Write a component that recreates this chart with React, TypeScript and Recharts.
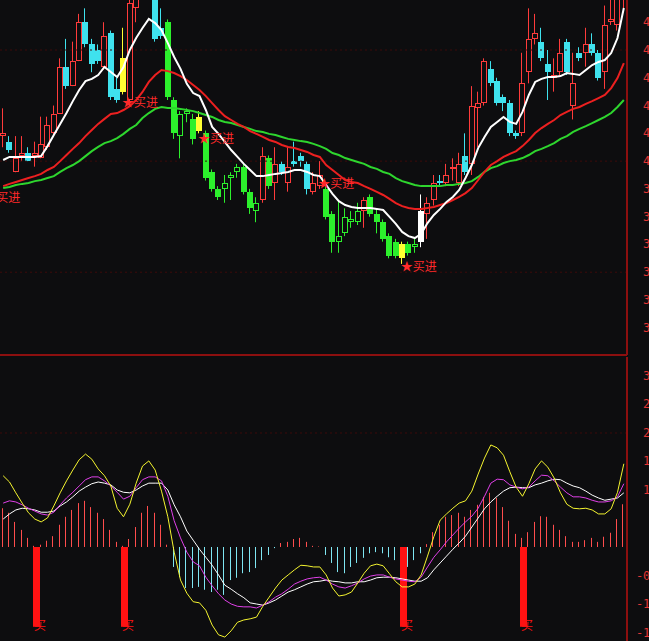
import React from 'react'
import { ComposedChart, Bar, Line, XAxis, YAxis, ReferenceLine } from 'recharts'

const BG = '#0d0d0f'
const AXIS_RED = '#8c0f0f'
const LABEL_RED = '#e23434'

// daily candles, left to right
const opens = [
  4.09, 4.07, 3.96, 4.02, 4.03, 4.02, 4.01, 4.05, 4.10, 4.17,
  4.34, 4.27, 4.36, 4.50, 4.42, 4.40, 4.34, 4.46, 4.26, 4.25,
  4.22, 4.55, 4.62, 4.65, 4.73, 4.48, 4.50, 4.22, 4.09, 4.17,
  4.15, 4.11, 4.10, 3.96, 3.90, 3.90, 3.94, 3.96, 3.98, 3.89,
  3.82, 3.86, 4.01, 3.92, 3.99, 3.92, 4.00, 4.02, 3.99, 3.89,
  3.91, 3.90, 3.81, 3.71, 3.74, 3.78, 3.78, 3.82, 3.87, 3.81,
  3.78, 3.73, 3.71, 3.65, 3.70, 3.69, 3.71, 3.81, 3.86, 3.93,
  3.92, 3.97, 3.92, 4.02, 3.99, 4.19, 4.21, 4.33, 4.29, 4.23,
  4.21, 4.10, 4.10, 4.32, 4.44, 4.43, 4.35, 4.30, 4.32, 4.43,
  4.20, 4.39, 4.39, 4.42, 4.39, 4.32, 4.50, 4.49, 4.60,
]
const highs = [
  4.19, 4.09, 4.09, 4.09, 4.05, 4.07, 4.16, 4.16, 4.20, 4.37,
  4.44, 4.43, 4.53, 4.55, 4.44, 4.42, 4.50, 4.47, 4.30, 4.48,
  4.59, 4.63, 4.74, 4.78, 4.76, 4.55, 4.51, 4.23, 4.18, 4.19,
  4.17, 4.18, 4.11, 3.97, 3.91, 3.95, 3.96, 3.99, 3.99, 3.90,
  3.87, 4.05, 4.02, 4.05, 4.00, 4.05, 4.07, 4.03, 4.00, 3.96,
  4.00, 3.91, 3.82, 3.86, 3.83, 3.82, 3.85, 3.87, 3.88, 3.83,
  3.79, 3.74, 3.72, 3.71, 3.71, 3.72, 3.88, 3.87, 3.95, 3.95,
  3.99, 4.01, 4.03, 4.10, 4.27, 4.25, 4.37, 4.36, 4.30, 4.24,
  4.22, 4.11, 4.39, 4.55, 4.53, 4.48, 4.40, 4.37, 4.44, 4.44,
  4.39, 4.41, 4.48, 4.46, 4.40, 4.56, 4.58, 4.62, 4.71,
]
const lows = [
  4.05, 4.03, 3.96, 4.00, 4.00, 3.98, 4.01, 4.04, 4.09, 4.17,
  4.26, 4.27, 4.36, 4.41, 4.32, 4.35, 4.33, 4.22, 4.21, 4.24,
  4.21, 4.50, 4.59, 4.60, 4.43, 4.44, 4.22, 4.08, 4.01, 4.14,
  4.06, 4.10, 3.93, 3.89, 3.86, 3.85, 3.86, 3.94, 3.88, 3.81,
  3.78, 3.85, 3.90, 3.86, 3.95, 3.89, 3.98, 3.98, 3.88, 3.88,
  3.90, 3.79, 3.67, 3.67, 3.73, 3.76, 3.77, 3.76, 3.80, 3.74,
  3.71, 3.65, 3.65, 3.63, 3.66, 3.67, 3.69, 3.72, 3.84, 3.91,
  3.91, 3.93, 3.91, 3.95, 3.95, 4.05, 4.20, 4.27, 4.20, 4.18,
  4.09, 4.08, 4.09, 4.28, 4.42, 4.36, 4.22, 4.25, 4.31, 4.31,
  4.15, 4.36, 4.34, 4.38, 4.29, 4.26, 4.49, 4.47, 4.55,
]
const closes = [
  4.10, 4.04, 4.01, 4.03, 4.00, 4.03, 4.06, 4.13, 4.17, 4.34,
  4.27, 4.36, 4.50, 4.42, 4.35, 4.36, 4.45, 4.23, 4.22, 4.37,
  4.57, 4.62, 4.72, 4.76, 4.44, 4.45, 4.23, 4.10, 4.17, 4.18,
  4.08, 4.16, 3.94, 3.90, 3.87, 3.92, 3.95, 3.98, 3.89, 3.83,
  3.85, 4.02, 3.91, 3.99, 3.96, 3.98, 3.99, 4.00, 3.90, 3.92,
  3.95, 3.80, 3.71, 3.73, 3.80, 3.79, 3.82, 3.86, 3.81, 3.78,
  3.72, 3.66, 3.66, 3.70, 3.67, 3.70, 3.82, 3.85, 3.92, 3.92,
  3.95, 3.98, 3.99, 3.96, 4.20, 4.21, 4.36, 4.28, 4.21, 4.21,
  4.10, 4.09, 4.28, 4.44, 4.46, 4.37, 4.32, 4.31, 4.39, 4.32,
  4.28, 4.37, 4.42, 4.39, 4.30, 4.49, 4.51, 4.60, 4.69,
]
// candle state from the indicator: R rise, C fall, G weak fall, g weak rise, Y signal, W turn
const tones = (
  'RCRRCRRRRR' + 'CRRCCCRCCY' + 'RRRRCCGGgg' + 'GYGGGgggGG' + 'gRGRCRCCCR' +
  'RGGggggRGG' + 'GGGYGgWRRC' + 'RRRCRRRCCC' + 'CCRRRCCRRC' + 'RCRCCRRRR'
).split('')

const maFast = [
  4.004, 4.015, 4.015, 4.015, 4.015, 4.015, 4.018, 4.054, 4.094, 4.134,
  4.173, 4.216, 4.256, 4.288, 4.296, 4.310, 4.339, 4.321, 4.303, 4.339,
  4.400, 4.443, 4.479, 4.512, 4.497, 4.472, 4.425, 4.375, 4.332, 4.278,
  4.245, 4.234, 4.184, 4.123, 4.098, 4.069, 4.040, 4.015, 3.990, 3.968,
  3.946, 3.946, 3.950, 3.954, 3.957, 3.961, 3.968, 3.968, 3.961, 3.950,
  3.946, 3.914, 3.882, 3.856, 3.842, 3.835, 3.831, 3.831, 3.831, 3.828,
  3.824, 3.799, 3.774, 3.745, 3.730, 3.723, 3.738, 3.777, 3.806, 3.828,
  3.853, 3.871, 3.896, 3.939, 3.986, 4.047, 4.087, 4.123, 4.141, 4.159,
  4.141, 4.134, 4.177, 4.238, 4.285, 4.296, 4.303, 4.303, 4.306, 4.317,
  4.314, 4.310, 4.328, 4.346, 4.357, 4.364, 4.389, 4.443, 4.551,
]
const maMid = [
  3.910, 3.918, 3.925, 3.932, 3.939, 3.946, 3.954, 3.968, 3.979, 4.000,
  4.022, 4.044, 4.065, 4.090, 4.112, 4.134, 4.152, 4.170, 4.173, 4.184,
  4.198, 4.220, 4.249, 4.285, 4.310, 4.328, 4.324, 4.317, 4.306, 4.292,
  4.274, 4.256, 4.234, 4.209, 4.184, 4.162, 4.148, 4.134, 4.123, 4.108,
  4.098, 4.087, 4.076, 4.069, 4.058, 4.051, 4.047, 4.040, 4.033, 4.022,
  4.015, 3.986, 3.968, 3.950, 3.932, 3.925, 3.921, 3.910, 3.900, 3.889,
  3.878, 3.864, 3.849, 3.838, 3.831, 3.828, 3.828, 3.831, 3.835, 3.842,
  3.849, 3.860, 3.871, 3.885, 3.903, 3.932, 3.961, 3.986, 4.000, 4.015,
  4.026, 4.036, 4.054, 4.076, 4.101, 4.119, 4.134, 4.148, 4.166, 4.177,
  4.188, 4.195, 4.206, 4.216, 4.227, 4.238, 4.263, 4.299, 4.353,
]
const maSlow = [
  3.903, 3.907, 3.914, 3.918, 3.921, 3.928, 3.932, 3.939, 3.946, 3.961,
  3.975, 3.986, 4.000, 4.018, 4.036, 4.051, 4.065, 4.072, 4.083, 4.098,
  4.116, 4.130, 4.155, 4.173, 4.188, 4.195, 4.191, 4.191, 4.188, 4.184,
  4.180, 4.173, 4.166, 4.159, 4.148, 4.141, 4.137, 4.130, 4.123, 4.116,
  4.108, 4.105, 4.098, 4.094, 4.087, 4.080, 4.076, 4.072, 4.069, 4.062,
  4.054, 4.044, 4.029, 4.022, 4.011, 4.004, 3.997, 3.990, 3.979, 3.972,
  3.961, 3.954, 3.939, 3.928, 3.921, 3.914, 3.910, 3.910, 3.910, 3.910,
  3.914, 3.914, 3.918, 3.921, 3.928, 3.943, 3.961, 3.975, 3.982, 3.993,
  4.000, 4.004, 4.011, 4.022, 4.036, 4.044, 4.054, 4.065, 4.080, 4.090,
  4.105, 4.116, 4.126, 4.137, 4.148, 4.159, 4.173, 4.195, 4.220,
]

// "★买进" marks: [candle index, price level]
const buyMarks = [[0, 3.87], [19, 4.21], [31, 4.08], [50, 3.92], [63, 3.62]]

// lower panel oscillator
const histogram = [
  0.68, 0.60, 0.44, 0.30, 0.16, 0.02, 0.04, 0.11, 0.19, 0.39,
  0.53, 0.65, 0.77, 0.81, 0.70, 0.60, 0.49, 0.30, 0.09, 0.02,
  0.14, 0.35, 0.60, 0.72, 0.60, 0.39, 0.04, -0.35, -0.53, -0.72,
  -0.72, -0.70, -0.75, -0.79, -0.75, -0.84, -0.58, -0.54, -0.46, -0.44,
  -0.37, -0.23, -0.14, -0.02, 0.07, 0.09, 0.14, 0.16, 0.09, 0.02,
  0.01, -0.14, -0.28, -0.44, -0.46, -0.35, -0.28, -0.19, -0.11, -0.09,
  -0.11, -0.18, -0.23, -0.26, -0.35, -0.23, -0.11, 0.05, 0.26, 0.39,
  0.53, 0.56, 0.60, 0.53, 0.65, 0.74, 0.88, 0.95, 0.86, 0.70,
  0.46, 0.23, 0.16, 0.26, 0.44, 0.54, 0.53, 0.39, 0.30, 0.19,
  0.09, 0.09, 0.12, 0.16, 0.09, 0.18, 0.25, 0.49, 0.75,
]
const fastLine = [
  1.25, 1.14, 0.95, 0.77, 0.60, 0.49, 0.44, 0.51, 0.72, 0.95,
  1.16, 1.35, 1.53, 1.63, 1.54, 1.37, 1.25, 1.07, 0.68, 0.53,
  0.75, 1.12, 1.42, 1.51, 1.35, 0.98, 0.53, -0.09, -0.58, -0.81,
  -0.96, -0.98, -1.11, -1.37, -1.54, -1.58, -1.47, -1.32, -1.28, -1.26,
  -1.23, -1.04, -0.88, -0.72, -0.58, -0.49, -0.40, -0.32, -0.33, -0.35,
  -0.35, -0.49, -0.72, -0.86, -0.84, -0.79, -0.63, -0.46, -0.33, -0.30,
  -0.33, -0.47, -0.61, -0.70, -0.70, -0.65, -0.49, -0.16, 0.18, 0.47,
  0.58, 0.68, 0.77, 0.81, 0.98, 1.28, 1.56, 1.79, 1.74, 1.61,
  1.32, 1.05, 0.89, 1.11, 1.37, 1.51, 1.40, 1.21, 0.95, 0.75,
  0.68, 0.67, 0.68, 0.65, 0.58, 0.58, 0.67, 0.96, 1.46,
]
const midLine = [
  0.77, 0.81, 0.79, 0.74, 0.68, 0.63, 0.58, 0.56, 0.61, 0.74,
  0.86, 0.96, 1.07, 1.18, 1.23, 1.23, 1.16, 1.07, 0.96, 0.84,
  0.89, 1.04, 1.18, 1.23, 1.23, 1.16, 0.89, 0.46, 0.16, -0.09,
  -0.26, -0.33, -0.53, -0.68, -0.82, -0.93, -1.00, -1.04, -1.05, -1.05,
  -1.07, -1.02, -0.96, -0.88, -0.82, -0.74, -0.65, -0.60, -0.56, -0.54,
  -0.53, -0.58, -0.65, -0.70, -0.72, -0.68, -0.63, -0.56, -0.51, -0.49,
  -0.49, -0.53, -0.56, -0.58, -0.60, -0.61, -0.53, -0.35, -0.18, -0.05,
  0.09, 0.21, 0.33, 0.44, 0.54, 0.68, 0.89, 1.12, 1.19, 1.18,
  1.09, 1.05, 1.02, 1.05, 1.16, 1.26, 1.25, 1.16, 1.05, 0.95,
  0.88, 0.88, 0.86, 0.82, 0.79, 0.79, 0.81, 0.88, 1.11,
]
const slowLine = [
  0.49, 0.58, 0.65, 0.68, 0.67, 0.65, 0.61, 0.61, 0.63, 0.72,
  0.79, 0.88, 0.98, 1.05, 1.11, 1.14, 1.12, 1.09, 1.00, 0.96,
  0.95, 1.00, 1.07, 1.12, 1.12, 1.12, 1.00, 0.74, 0.53, 0.28,
  0.12, -0.04, -0.18, -0.32, -0.49, -0.67, -0.74, -0.82, -0.89, -0.98,
  -1.00, -1.02, -0.98, -0.93, -0.86, -0.79, -0.75, -0.70, -0.65, -0.61,
  -0.60, -0.58, -0.60, -0.61, -0.63, -0.63, -0.61, -0.61, -0.58, -0.54,
  -0.53, -0.53, -0.54, -0.56, -0.58, -0.60, -0.60, -0.54, -0.40, -0.28,
  -0.16, -0.04, 0.07, 0.19, 0.35, 0.51, 0.67, 0.79, 0.89, 0.98,
  1.04, 1.05, 1.04, 1.04, 1.09, 1.12, 1.16, 1.19, 1.18, 1.12,
  1.07, 1.04, 0.98, 0.91, 0.86, 0.82, 0.84, 0.86, 0.95,
]
// "买" signal bars
const buyBarsAt = [5, 19, 63, 82]
const BUY_DEPTH = -1.4

const priceTicks = [4.5, 4.4, 4.3, 4.2, 4.1, 4.0, 3.9, 3.8, 3.7, 3.6, 3.5, 3.4]
const oscTicks = [3, 2.5, 2, 1.5, 1, -0.5, -1, -1.5]
const PRICE_DOMAIN = [3.302, 4.58]
const OSC_DOMAIN = [-1.649, 3.333]

const TONE: Record<string, string> = {
  R: '#ff3b3b',
  C: '#3fe2ee',
  G: '#2cf02c',
  g: '#2cf02c',
  Y: '#ffff33',
  W: '#ffffff',
}

const markAt = new Map(buyMarks.map(([i, p]) => [i, p]))
const rows = opens.map((open, i) => ({
  idx: i,
  open,
  high: highs[i],
  low: lows[i],
  close: closes[i],
  tone: tones[i],
  maFast: maFast[i],
  maMid: maMid[i],
  maSlow: maSlow[i],
  mark: markAt.has(i) ? markAt.get(i) : null,
  hist: histogram[i],
  fast: fastLine[i],
  mid: midLine[i],
  slow: slowLine[i],
  buy: buyBarsAt.includes(i) ? BUY_DEPTH : null,
}))

function Candle(props: any) {
  const { x, y, width, height, payload } = props
  if (!payload || !isFinite(y) || !isFinite(height)) return <g />
  const { open, high, low, close, tone } = payload
  const k = height / (high - low)
  const py = (v: number) => y + (high - v) * k
  const left = Math.round(x + width / 2 - 3)
  const mid = left + 2.5
  const col = TONE[tone]
  const top = Math.round(py(Math.max(open, close)))
  const bot = Math.round(py(Math.min(open, close)))
  const hollow = tone === 'R' || tone === 'g'
  if (hollow && bot - top >= 2) {
    return (
      <g>
        <line x1={mid} x2={mid} y1={y} y2={top} stroke={col} />
        <line x1={mid} x2={mid} y1={bot} y2={y + height} stroke={col} />
        <rect x={left + 0.5} y={top + 0.5} width={5} height={bot - top - 1} fill={BG} stroke={col} />
      </g>
    )
  }
  return (
    <g>
      <line x1={mid} x2={mid} y1={y} y2={y + height} stroke={col} />
      <rect x={left} y={top} width={6} height={Math.max(bot - top, 1)} fill={col} />
    </g>
  )
}

function HistStick(props: any) {
  const { x, y, width, height, payload } = props
  if (!payload || !isFinite(y)) return <g />
  const cx = Math.round(x + width / 2) + 0.5
  const col = payload.hist >= 0 ? '#ff4d4d' : '#7fe6f2'
  return <line x1={cx} x2={cx} y1={y} y2={y + height} stroke={col} />
}

function BuyBar(props: any) {
  const { x, y, width, height, payload } = props
  if (!payload || payload.buy == null || !isFinite(y)) return <g />
  const left = Math.round(x + width / 2 - 3.5)
  const top = Math.min(y, y + height)
  const bot = Math.max(y, y + height)
  return (
    <g>
      <rect x={left} y={top} width={7} height={bot - top} fill="#ff1212" />
      <text x={left + 1} y={bot + 3} fontSize={12} fill="#ff1212" fontFamily="'Noto Sans CJK SC', sans-serif">
        买
      </text>
    </g>
  )
}

const renderMark = (props: any) => {
  const { cx, cy, index, payload } = props
  if (!payload || payload.mark == null || cy == null || !isFinite(cy)) return <g key={`m${index}`} />
  const lead = index === 0
  return (
    <text
      key={`m${index}`}
      x={lead ? cx + 17 : cx - 1.5}
      y={cy + 4.5}
      textAnchor={lead ? 'end' : 'start'}
      fontSize={12}
      fill="#ff2a2a"
      fontFamily="'Noto Sans CJK SC', sans-serif"
    >
      ★买进
    </text>
  )
}

const AxisTick = (props: any) => {
  const { x, y, payload } = props
  return (
    <text
      x={x + 45}
      y={y + 4}
      textAnchor="end"
      fill={LABEL_RED}
      fontSize={12}
      fontFamily="'DejaVu Sans Mono', monospace"
    >
      {Number(payload.value).toFixed(2)}
    </text>
  )
}

export default function App() {
  return (
    <div
      style={{
        position: 'absolute',
        left: 0,
        top: 0,
        width: 649,
        height: 641,
        background: BG,
        overflow: 'hidden',
      }}
    >
      <ComposedChart
        width={649}
        height={357}
        data={rows}
        margin={{ top: 0, right: 0, bottom: 0, left: 0 }}
        barCategoryGap={0}
        barGap={0}
      >
        <XAxis
          dataKey="idx"
          tick={false}
          tickLine={false}
          height={2}
          axisLine={{ stroke: AXIS_RED, strokeWidth: 2 }}
        />
        <YAxis
          orientation="right"
          width={22}
          domain={PRICE_DOMAIN}
          allowDataOverflow
          ticks={priceTicks}
          interval={0}
          tickSize={0}
          tickMargin={0}
          tickLine={false}
          tick={AxisTick}
          axisLine={{ stroke: AXIS_RED, strokeWidth: 2 }}
        />
        {[4.4, 4.0, 3.6].map((v) => (
          <ReferenceLine key={v} y={v} stroke="#3e0b0b" strokeDasharray="2 3" />
        ))}
        <Bar dataKey={(d: any) => [d.low, d.high]} shape={Candle} isAnimationActive={false} />
        <Line dataKey="maSlow" stroke="#2ed62e" strokeWidth={2} dot={false} activeDot={false} isAnimationActive={false} />
        <Line dataKey="maMid" stroke="#ec2020" strokeWidth={2} dot={false} activeDot={false} isAnimationActive={false} />
        <Line dataKey="maFast" stroke="#ffffff" strokeWidth={2} dot={false} activeDot={false} isAnimationActive={false} />
        <Line dataKey="mark" stroke="none" dot={renderMark} activeDot={false} isAnimationActive={false} />
      </ComposedChart>
      <ComposedChart
        width={649}
        height={284}
        data={rows}
        margin={{ top: 0, right: 0, bottom: 0, left: 0 }}
        barCategoryGap={0}
        barGap={0}
      >
        <XAxis dataKey="idx" hide />
        <YAxis
          yAxisId="osc"
          orientation="right"
          width={22}
          domain={OSC_DOMAIN}
          allowDataOverflow
          ticks={oscTicks}
          interval={0}
          tickSize={0}
          tickMargin={0}
          tickLine={false}
          tick={AxisTick}
          axisLine={{ stroke: AXIS_RED, strokeWidth: 2 }}
        />
        <YAxis yAxisId="sig" hide domain={OSC_DOMAIN} allowDataOverflow />
        <ReferenceLine yAxisId="osc" y={2} stroke="#3e0b0b" strokeDasharray="2 3" />
        <Bar yAxisId="osc" dataKey="hist" shape={HistStick} isAnimationActive={false} />
        <Line yAxisId="osc" dataKey="slow" stroke="#ffffff" strokeWidth={1} dot={false} activeDot={false} isAnimationActive={false} />
        <Line yAxisId="osc" dataKey="mid" stroke="#e040e8" strokeWidth={1} dot={false} activeDot={false} isAnimationActive={false} />
        <Line yAxisId="osc" dataKey="fast" stroke="#f5f530" strokeWidth={1} dot={false} activeDot={false} isAnimationActive={false} />
        <Bar yAxisId="sig" dataKey="buy" shape={BuyBar} isAnimationActive={false} />
      </ComposedChart>
    </div>
  )
}
